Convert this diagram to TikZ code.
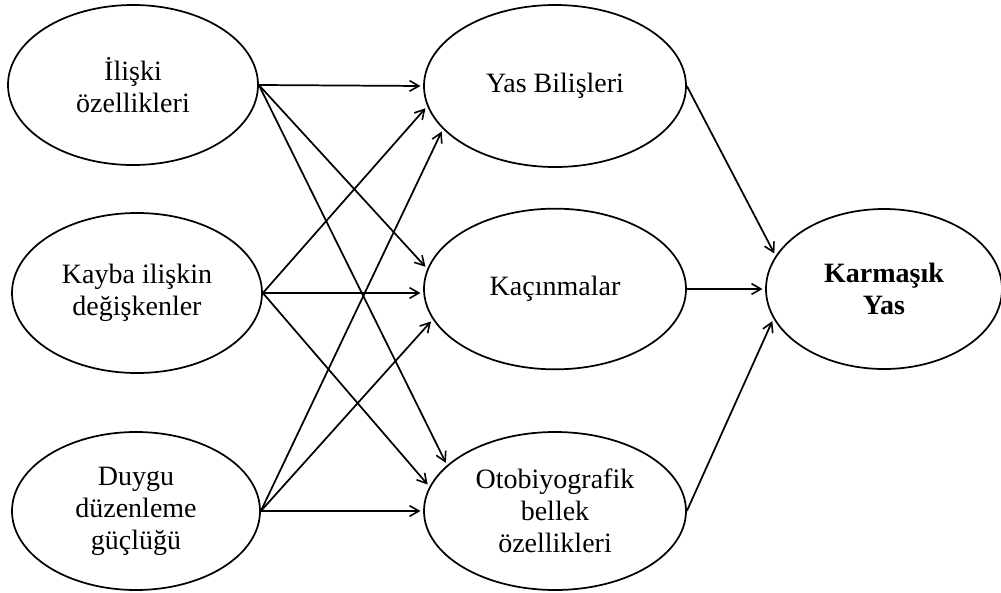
\documentclass[tikz,border=0pt]{standalone}
\usepackage{fontspec}
\setmainfont{Liberation Serif}
\usetikzlibrary{shapes.geometric,arrows.meta}
\begin{document}
\begin{tikzpicture}[x=0.75pt,y=-0.75pt,
  ell/.style={draw, ellipse, line width=1.3pt, inner sep=0pt, align=center,
    font=\fontsize{21}{24}\selectfont},
  conn/.style={line width=1.3pt, -{Straight Barb[length=7pt,width=8pt,line width=1.2pt]}, shorten >=2pt}
]
\useasboundingbox (0,0) rectangle (1001,593);
\node[ell, minimum width=187.5pt, minimum height=120pt] (il) at (133,85) {İlişki\\özellikleri};
\node[ell, minimum width=187.5pt, minimum height=120pt] (ka) at (137,293) {Kayba ilişkin\\değişkenler};
\node[ell, minimum width=186pt, minimum height=118.5pt] (du) at (136,511) {Duygu\\düzenleme\\güçlüğü};
\node[ell, minimum width=196.5pt, minimum height=121.5pt] (yb) at (555,86) {Yas Bilişleri};
\node[ell, minimum width=196.5pt, minimum height=120.5pt] (kc) at (555,289) {Kaçınmalar};
\node[ell, minimum width=196.5pt, minimum height=118.5pt] (ob) at (555,511) {Otobiyografik\\bellek\\özellikleri};
\node[ell, minimum width=177pt, minimum height=120pt, font=\fontsize{21}{24}\selectfont\bfseries] (ky) at (884,289) {Karmaşık\\Yas};

\draw[conn] (il.east) -- (yb.west);
\draw[conn] (il.east) -- (kc.171);
\draw[conn] (il.east) -- (ob.157.9);
\draw[conn] (ka.east) -- (yb.189.4);
\draw[conn] (ka.east) -- (ka.east -| kc.west);
\draw[conn] (ka.east) -- (ob.169.8);
\draw[conn] (du.east) -- (yb.201.7);
\draw[conn] (du.east) -- (kc.194.3);
\draw[conn] (du.east) -- (ob.west);
\draw[conn] (yb.east) -- (ky.163.4);
\draw[conn] (kc.east) -- (ky.west);
\draw[conn] (ob.east) -- (ky.195.7);
\end{tikzpicture}
\end{document}
